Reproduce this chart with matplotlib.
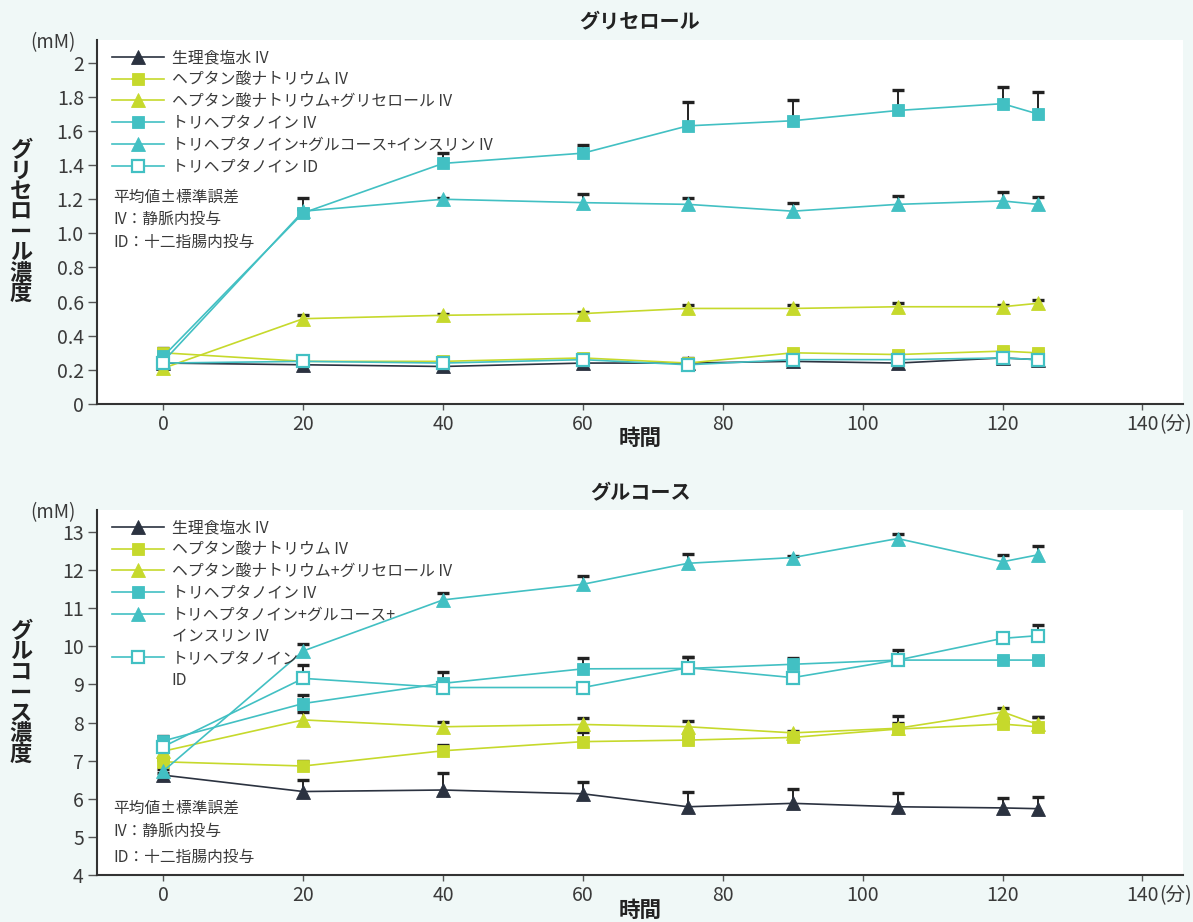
import matplotlib
matplotlib.use('Agg')
import matplotlib.pyplot as plt
from matplotlib.lines import Line2D
import numpy as np

plt.rcParams['font.family'] = ['Noto Sans CJK JP', 'DejaVu Sans']

# ---------------- data ----------------
t = [0, 20, 40, 60, 75, 90, 105, 120, 125]

labels_top = ['生理食塩水 IV', 'ヘプタン酸ナトリウム IV', 'ヘプタン酸ナトリウム+グリセロール IV',
              'トリヘプタノイン IV', 'トリヘプタノイン+グルコース+インスリン IV', 'トリヘプタノイン ID']
labels_bot = ['生理食塩水 IV', 'ヘプタン酸ナトリウム IV', 'ヘプタン酸ナトリウム+グリセロール IV',
              'トリヘプタノイン IV', 'トリヘプタノイン+グルコース+\nインスリン IV', 'トリヘプタノイン\nID']

# glycerol (mM)
gly_saline = [0.24, 0.23, 0.22, 0.24, 0.24, 0.25, 0.24, 0.27, 0.26]
gly_saline_se = [0.02, 0.01, 0.01, 0.01, 0.03, 0.01, 0.01, 0.01, 0.01]
gly_hep = [0.30, 0.25, 0.25, 0.27, 0.24, 0.30, 0.29, 0.31, 0.30]
gly_hep_se = [0.03, 0.01, 0.01, 0.01, 0.01, 0.01, 0.01, 0.01, 0.01]
gly_hepgly = [0.21, 0.50, 0.52, 0.53, 0.56, 0.56, 0.57, 0.57, 0.59]
gly_hepgly_se = [0.01, 0.02, 0.01, 0.01, 0.02, 0.02, 0.02, 0.01, 0.02]
gly_tri = [0.28, 1.12, 1.41, 1.47, 1.63, 1.66, 1.72, 1.76, 1.70]
gly_tri_se = [0.03, 0.09, 0.06, 0.05, 0.14, 0.12, 0.12, 0.10, 0.13]
gly_tgi = [0.25, 1.13, 1.20, 1.18, 1.17, 1.13, 1.17, 1.19, 1.17]
gly_tgi_se = [0.01, 0.01, 0.01, 0.05, 0.035, 0.05, 0.05, 0.05, 0.045]
gly_id = [0.24, 0.25, 0.24, 0.26, 0.23, 0.26, 0.26, 0.27, 0.26]
gly_id_se = [0.01, 0.01, 0.01, 0.01, 0.01, 0.01, 0.01, 0.01, 0.01]

# glucose (mM)
glu_saline = [6.62, 6.19, 6.23, 6.13, 5.79, 5.88, 5.79, 5.76, 5.74]
glu_saline_se = [0.05, 0.30, 0.44, 0.32, 0.38, 0.38, 0.37, 0.26, 0.31]
glu_hep = [6.97, 6.86, 7.26, 7.50, 7.54, 7.61, 7.83, 7.96, 7.89]
glu_hep_se = [0.05, 0.13, 0.15, 0.24, 0.05, 0.05, 0.16, 0.05, 0.26]
glu_hepgly = [7.25, 8.07, 7.89, 7.95, 7.89, 7.73, 7.85, 8.28, 7.95]
glu_hepgly_se = [0.05, 0.21, 0.13, 0.18, 0.15, 0.05, 0.33, 0.11, 0.20]
glu_tri = [7.52, 8.50, 9.03, 9.41, 9.42, 9.53, 9.64, 9.64, 9.64]
glu_tri_se = [0.12, 0.22, 0.31, 0.29, 0.31, 0.17, 0.05, 0.05, 0.05]
glu_tgi = [6.73, 9.88, 11.22, 11.63, 12.18, 12.33, 12.83, 12.22, 12.40]
glu_tgi_se = [0.05, 0.18, 0.17, 0.22, 0.24, 0.05, 0.13, 0.18, 0.23]
glu_id = [7.37, 9.16, 8.92, 8.92, 9.44, 9.18, 9.64, 10.21, 10.28]
glu_id_se = [0.05, 0.35, 0.05, 0.05, 0.29, 0.13, 0.27, 0.12, 0.28]

xticks = [0, 20, 40, 60, 80, 100, 120, 140]
xticklabels = ['0', '20', '40', '60', '80', '100', '120', '140']
gly_yticks = [0, 0.2, 0.4, 0.6, 0.8, 1.0, 1.2, 1.4, 1.6, 1.8, 2.0]
gly_yticklabels = ['0', '0.2', '0.4', '0.6', '0.8', '1.0', '1.2', '1.4', '1.6', '1.8', '2']
glu_yticks = [4, 5, 6, 7, 8, 9, 10, 11, 12, 13]
glu_yticklabels = ['4', '5', '6', '7', '8', '9', '10', '11', '12', '13']

# ---------------- style ----------------
NAVY = '#2b3240'
LIME = '#c6d92c'
TEAL = '#42c0c3'
BG = '#f0f8f7'
colors = [NAVY, LIME, LIME, TEAL, TEAL, TEAL]
markers = ['^', 's', '^', 's', '^', 's']
filled = [True, True, True, True, True, False]
TXT = '#3a3a3a'

fig = plt.figure(figsize=(11.93, 9.22), dpi=100)
fig.patch.set_facecolor(BG)

ax1 = fig.add_axes([0.0813, 0.5618, 0.9103, 0.3948])
ax2 = fig.add_axes([0.0813, 0.0510, 0.9103, 0.3959])


def draw(ax, vals, ses, labels, ylim, yticks, yticklabels, note_y):
    ax.set_facecolor('white')
    tt = np.array(t)
    handles, leg_labels = [], []
    for v, se, c, m, f, lab in zip(vals, ses, colors, markers, filled, labels):
        v = np.array(v)
        se = np.array(se)
        ax.vlines(tt, v, v + se, color='#222222', lw=1.4, zorder=2)
        ax.plot(tt, v + se, ls='none', marker='_', ms=8.5, mew=2.4, color='#222222', zorder=2)
        ms = 8.2 if m == 's' else 9.5
        h, = ax.plot(tt, v, color=c, lw=1.2, marker=m, ms=ms,
                     markerfacecolor=c if f else 'white', markeredgecolor=c,
                     mew=1.6 if not f else 0.6, zorder=3)
        parts = lab.split('\n')
        handles.append(h)
        leg_labels.append(parts[0])
        for extra in parts[1:]:
            handles.append(Line2D([], [], lw=0, marker=None))
            leg_labels.append(extra)
    ax.set_xlim(-9.5, 145.8)
    ax.set_ylim(*ylim)
    ax.set_xticks(xticks)
    ax.set_xticklabels(xticklabels)
    ax.set_yticks(yticks)
    ax.set_yticklabels(yticklabels)
    for s in ['top', 'right']:
        ax.spines[s].set_visible(False)
    for s in ['left', 'bottom']:
        ax.spines[s].set_color('#333333')
        ax.spines[s].set_linewidth(1.5)
    ax.tick_params(axis='x', direction='out', length=4.5, width=1.0, color='#555555',
                   labelsize=14, labelcolor=TXT, pad=3)
    ax.tick_params(axis='y', direction='out', length=6.5, width=1.0, color='#555555',
                   labelsize=14, labelcolor=TXT, pad=3)
    ax.annotate('(分)', xy=(140, 0), xycoords=('data', 'axes fraction'),
                xytext=(12, -7.5), textcoords='offset points', ha='left', va='top',
                fontsize=14, color=TXT, annotation_clip=False)
    leg = ax.legend(handles=handles, labels=leg_labels, loc='upper left',
                    bbox_to_anchor=(0.014, 0.974),
                    frameon=False, fontsize=11.4, handlelength=3.3, handletextpad=0.45,
                    labelspacing=0.3, borderpad=0, borderaxespad=0)
    for txt in leg.get_texts():
        txt.set_color(TXT)
    for i, line in enumerate(['平均値±標準誤差', 'IV：静脈内投与', 'ID：十二指腸内投与']):
        ax.text(0.015, note_y[i], line, transform=ax.transAxes, fontsize=11.3,
                color=TXT, ha='left', va='center')


draw(ax1, [gly_saline, gly_hep, gly_hepgly, gly_tri, gly_tgi, gly_id],
     [gly_saline_se, gly_hep_se, gly_hepgly_se, gly_tri_se, gly_tgi_se, gly_id_se],
     labels_top, (0, 2.133), gly_yticks, gly_yticklabels, [0.569, 0.508, 0.445])
draw(ax2, [glu_saline, glu_hep, glu_hepgly, glu_tri, glu_tgi, glu_id],
     [glu_saline_se, glu_hep_se, glu_hepgly_se, glu_tri_se, glu_tgi_se, glu_id_se],
     labels_bot, (4, 13.58), glu_yticks, glu_yticklabels, [0.184, 0.118, 0.049])

# titles, axis labels, units
fig.text(0.5365, 0.976, 'グリセロール', ha='center', va='center', fontsize=14.5,
         fontweight='bold', color='#222222')
fig.text(0.5365, 0.466, 'グルコース', ha='center', va='center', fontsize=14.5,
         fontweight='bold', color='#222222')
fig.text(0.5365, 0.524, '時間', ha='center', va='center', fontsize=15.5,
         fontweight='bold', color='#222222')
fig.text(0.5365, 0.012, '時間', ha='center', va='center', fontsize=15.5,
         fontweight='bold', color='#222222')
fig.text(0.0175, 0.7592, '\n'.join('グリセロール濃度'), ha='center', va='center',
         fontsize=16, fontweight='bold', color='#222222', linespacing=0.86)
fig.text(0.0175, 0.2485, '\n'.join('グルコース濃度'), ha='center', va='center',
         fontsize=16, fontweight='bold', color='#222222', linespacing=0.86)
fig.text(0.044, 0.954, '(mM)', ha='center', va='center', fontsize=13.5, color=TXT)
fig.text(0.044, 0.444, '(mM)', ha='center', va='center', fontsize=13.5, color=TXT)

fig.savefig('out.png', dpi=100, facecolor=fig.get_facecolor())
